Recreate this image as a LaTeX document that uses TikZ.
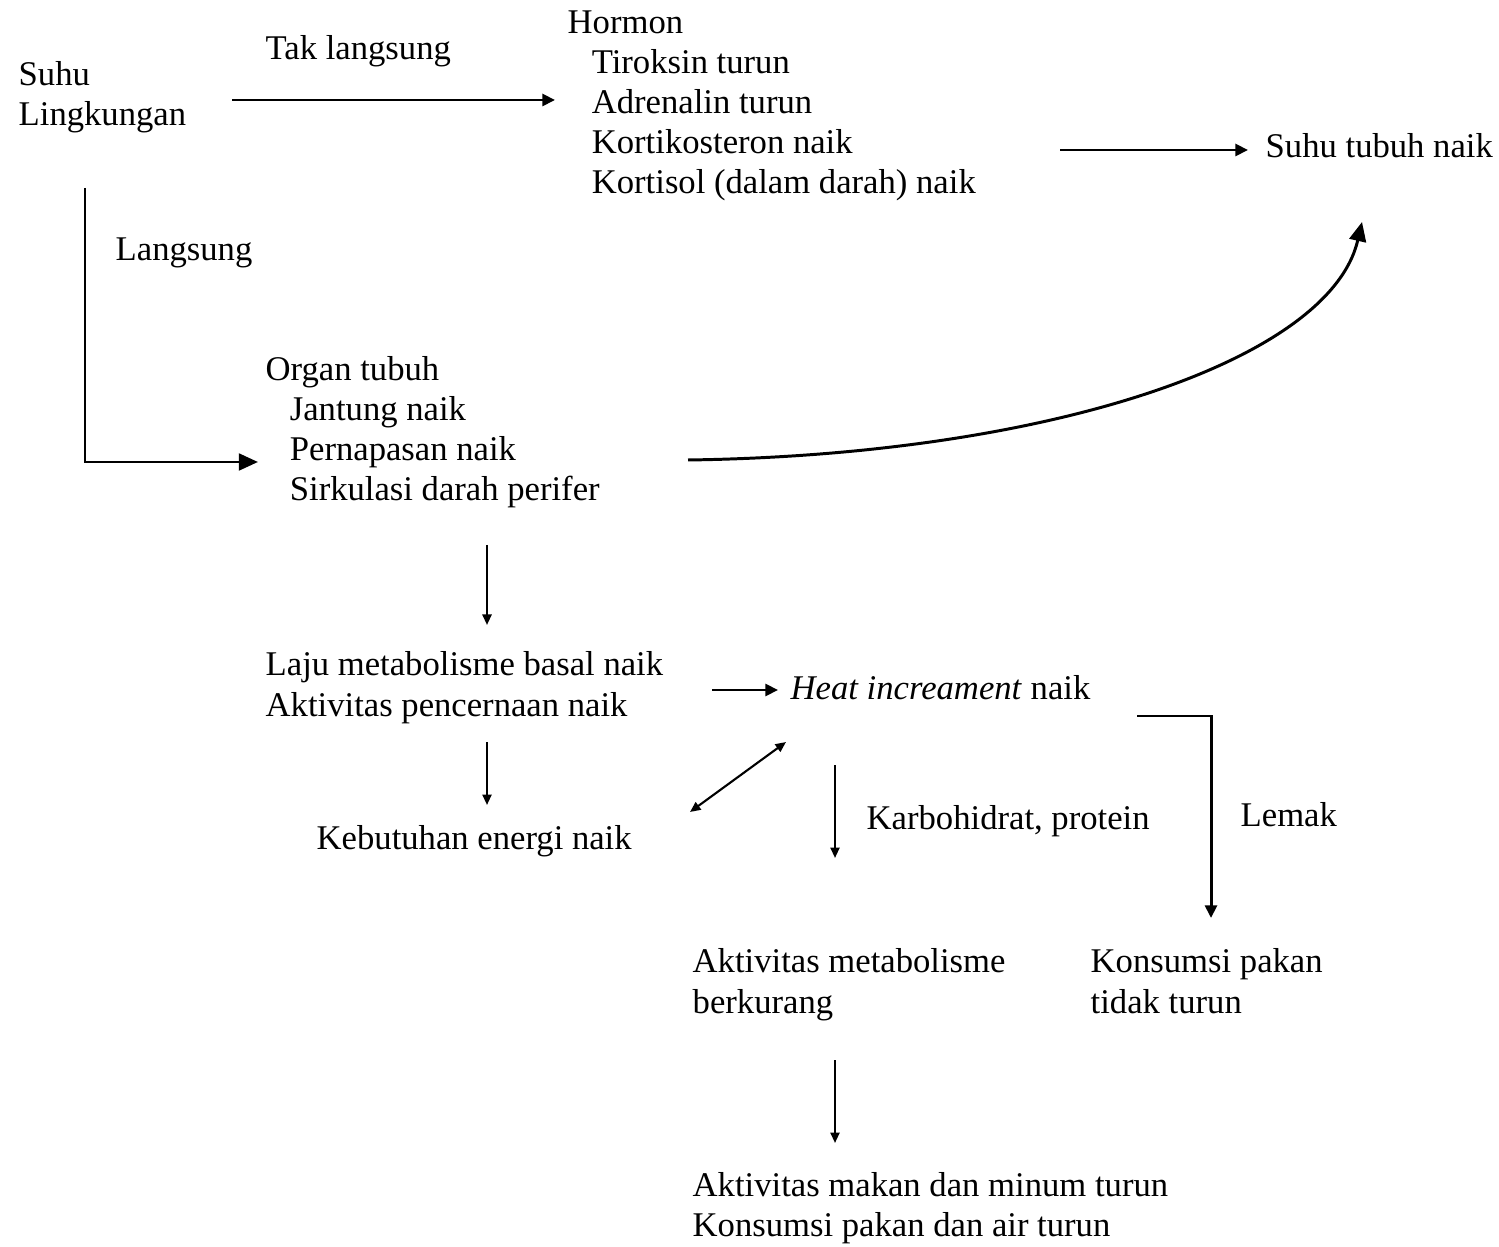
\documentclass[tikz,border=0pt]{standalone}
\usepackage{fontspec}
\setmainfont{Liberation Serif}
\usetikzlibrary{arrows.meta,calc}
\newcommand{\indsp}{\hspace*{6.9pt}}

\begin{document}
\begin{tikzpicture}[
  x=0.2857pt, y=-0.2857pt,
  every node/.style={font=\fontsize{9.9}{11.43}\selectfont, inner sep=0pt,
                     anchor=base west, align=left},
  arr/.style={-{Triangle[length=3pt,width=2.6pt]}, line width=0.6pt},
  arrmid/.style={-{Triangle[length=3.6pt,width=3.4pt]}, line width=0.85pt},
  arrbig/.style={-{Triangle[length=5.5pt,width=4.8pt]}, line width=0.85pt}
]
\useasboundingbox (0,0) rectangle (1499,1247);

% text blocks (placed at the baseline of their last line)
\node (suhu) at (18,126) {Suhu\\Lingkungan};
\node (tak) at (265,60) {Tak langsung};
\node (hormon) at (567,194) {Hormon\\\indsp Tiroksin turun\\\indsp Adrenalin turun\\
  \indsp Kortikosteron naik\\\indsp Kortisol (dalam darah) naik};
\node (tubuh) at (1265,158) {Suhu tubuh naik};
\node (langsung) at (115,261) {Langsung};
\node (organ) at (265,501) {Organ tubuh\\\indsp Jantung naik\\\indsp Pernapasan naik\\
  \indsp Sirkulasi darah perifer};
\node (laju) at (265,716) {Laju metabolisme basal naik\\Aktivitas pencernaan naik};
\node (heat) at (790,699) {\textit{Heat increament} naik};
\node (energi) at (316,849) {Kebutuhan energi naik};
\node (karbo) at (866,829) {Karbohidrat, protein};
\node (lemak) at (1240,826) {Lemak};
\node (metab) at (692,1013) {Aktivitas metabolisme\\berkurang};
\node (konsumsi) at (1090,1013) {Konsumsi pakan\\tidak turun};
\node (makan) at (692,1236) {Aktivitas makan dan minum turun\\Konsumsi pakan dan air turun};

% connectors
\draw[arrmid] ($(suhu.base west)+(214,-26)$) -- ($(hormon.base west)+(-12,-94)$);
\draw[arrmid] ($(hormon.base west)+(493,-44)$) -- ($(tubuh.base west)+(-17,-8)$);
\draw[arrbig] ($(suhu.base west)+(67,62)$) |- ($(organ.base west)+(-7,-39)$);
\draw[arrbig] ($(organ.base west)+(423,-41)$) .. controls +(362,-5) and +(-32,138) ..
  ($(tubuh.base west)+(97,64)$);
\draw[arr] ($(organ.base west)+(222,44)$) -- ($(laju.base west)+(222,-91)$);
\draw[arrmid] ($(laju.base west)+(447,-26)$) -- ($(heat.base west)+(-12,-9)$);
\draw[arr] ($(laju.base west)+(222,26)$) -- ($(energi.base west)+(171,-44)$);
\draw[{Triangle[length=3pt,width=2.6pt]}-{Triangle[length=3pt,width=2.6pt]}, line width=0.6pt]
  ($(energi.base west)+(374,-37)$) -- ($(heat.base west)+(-4,43)$);
\draw[arr] ($(heat.base west)+(45,66)$) -- ($(metab.base west)+(143,-155)$);
\draw[arrmid] ($(heat.base west)+(347,17)$) -| ($(konsumsi.base west)+(121,-95)$);
\draw[arr] ($(metab.base west)+(143,47)$) -- ($(makan.base west)+(143,-93)$);
\end{tikzpicture}
\end{document}
